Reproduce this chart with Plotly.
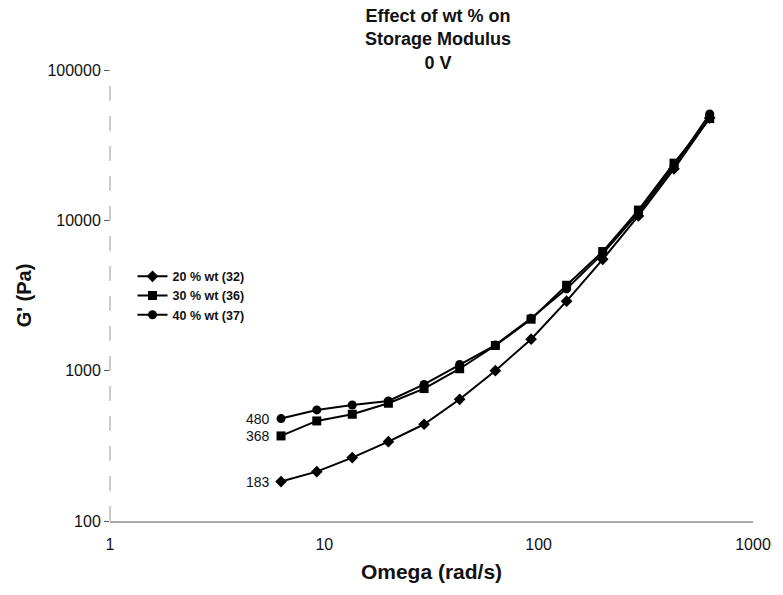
import math
import plotly.graph_objects as go

# Angular frequency sweep (rad/s) and storage modulus G' (Pa) per loading
omega = [6.28, 9.22, 13.5, 19.9, 29.2, 42.8, 62.8, 92.2, 135, 199, 292, 428, 628]
g_20 = [183, 213, 264, 337, 440, 645, 1000, 1620, 2900, 5500, 10700, 22000, 48000]
g_30 = [368, 463, 513, 607, 760, 1030, 1470, 2200, 3700, 6200, 11700, 24000, 47500]
g_40 = [480, 548, 591, 629, 810, 1100, 1480, 2230, 3500, 6000, 11200, 23000, 51000]

series_names = ["20 % wt (32)", "30 % wt (36)", "40 % wt (37)"]
series_values = [g_20, g_30, g_40]
symbols = ["diamond", "square", "circle"]

x_ticks = [1, 10, 100, 1000]
y_ticks = [100, 1000, 10000, 100000]

FONT = "Liberation Sans, Arial, sans-serif"
INK = "#111"

fig = go.Figure()
for name, vals, sym in zip(series_names, series_values, symbols):
    fig.add_trace(go.Scatter(
        x=omega, y=vals, name=f"<b>{name}</b>", mode="lines+markers",
        line=dict(color="black", width=2),
        marker=dict(symbol=sym, size=9, color="black"),
    ))

# Starting values labelled next to the first points
for vals in series_values:
    fig.add_annotation(
        x=math.log10(omega[0]), y=math.log10(vals[0]), xref="x", yref="y",
        showarrow=False, text=str(vals[0]), xanchor="right", xshift=-9,
        font=dict(family=FONT, size=14, color=INK),
    )

# Chart title
fig.add_annotation(
    x=0.51, y=1.146, xref="paper", yref="paper", showarrow=False,
    xanchor="center", yanchor="top", align="center",
    text="<b>Effect of wt % on<br>Storage Modulus<br>0 V</b>",
    font=dict(family=FONT, size=18, color=INK),
)

# dashed left axis line
fig.add_shape(type="line", xref="paper", yref="paper", x0=0, x1=0, y0=0, y1=1,
              line=dict(color="#999", width=1, dash="longdash"))

fig.update_layout(
    width=783, height=595,
    margin=dict(l=110, r=23, t=70, b=74),
    paper_bgcolor="white", plot_bgcolor="white",
    font=dict(family=FONT, color=INK),
    showlegend=True,
    legend=dict(
        x=0.035, y=0.575, xanchor="left", yanchor="top",
        bgcolor="rgba(0,0,0,0)", font=dict(family=FONT, size=12.5, color=INK),
        tracegroupgap=0, itemwidth=30,
    ),
    xaxis=dict(
        type="log", range=[0, 3],
        tickvals=x_ticks, ticktext=[str(v) for v in x_ticks],
        showgrid=False, zeroline=False,
        showline=True, linecolor="#aaa", linewidth=1.5,
        ticks="", ticklabelstandoff=8,
        tickfont=dict(family=FONT, size=16, color=INK),
        title=dict(text="<b>Omega (rad/s)</b>", standoff=12,
                   font=dict(family=FONT, size=21, color=INK)),
    ),
    yaxis=dict(
        type="log", range=[2, 5],
        tickvals=y_ticks, ticktext=[str(v) for v in y_ticks],
        showgrid=False, zeroline=False, showline=False,
        ticks="outside", ticklen=5, tickcolor="#555",
        tickfont=dict(family=FONT, size=16, color=INK),
        title=dict(text="<b>G' (Pa)</b>", standoff=10,
                   font=dict(family=FONT, size=20, color=INK)),
    ),
)

fig.write_html("out.html")
